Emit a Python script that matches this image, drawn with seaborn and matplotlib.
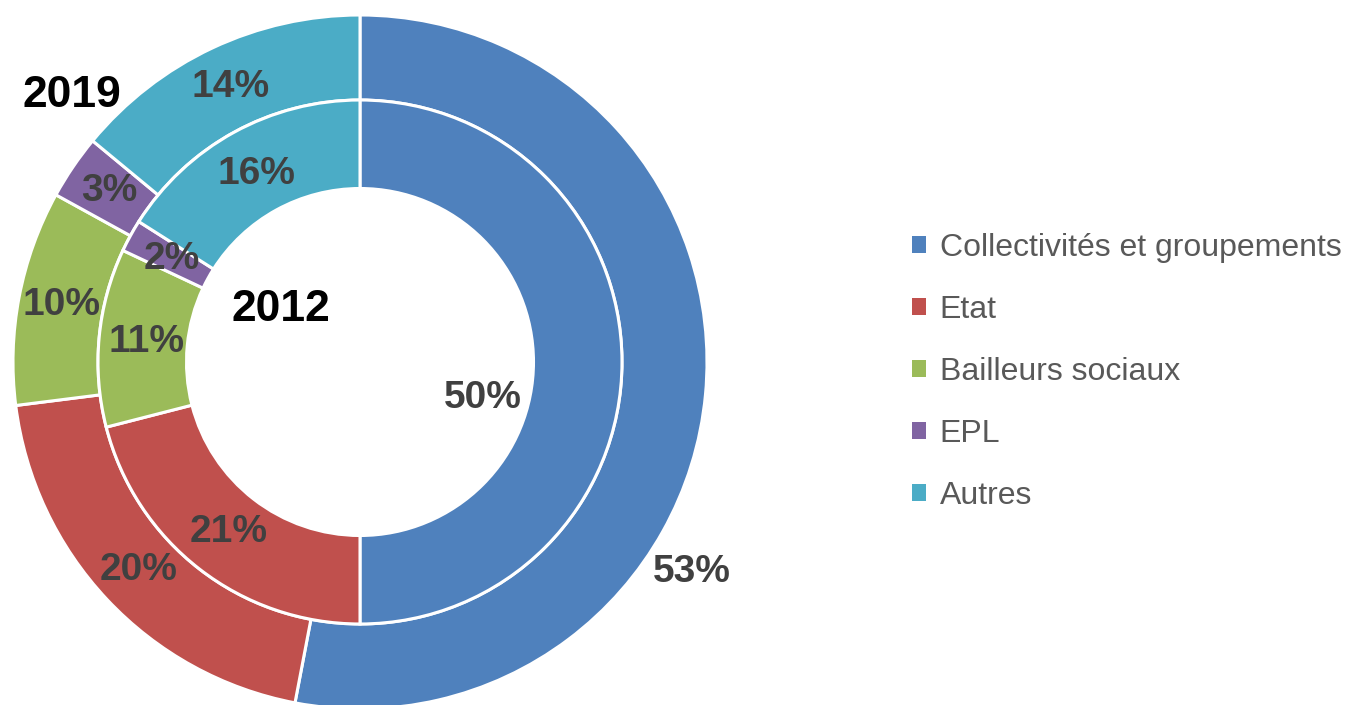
import matplotlib
matplotlib.use("Agg")
import matplotlib.pyplot as plt
import seaborn as sns
from matplotlib import font_manager

# data
categories = ["Collectivités et groupements", "Etat", "Bailleurs sociaux", "EPL", "Autres"]
values_2019 = [53, 20, 10, 3, 14]
values_2012 = [50, 21, 11, 2, 16]
colors = ["#4F81BD", "#C0504D", "#9BBB59", "#8064A2", "#4BACC6"]

sns.set_theme(style="white")
names = {f.name for f in font_manager.fontManager.ttflist}
font = "Liberation Sans Narrow" if "Liberation Sans Narrow" in names else "Liberation Sans"
plt.rcParams["font.family"] = [font, "DejaVu Sans"]

W, H = 1371, 705
R = 347.0  # outer radius in px
cx, cy = 360, 362  # center in px (from top-left)

fig = plt.figure(figsize=(W / 100, H / 100), dpi=100)
ax = fig.add_axes([0, 0, 720 / W, 1])

palette = sns.color_palette(colors)
wedge_kw = dict(edgecolor="white", linewidth=2.2)
pct = lambda p: f"{round(p)}%"

outer, _, outer_txt = ax.pie(values_2019, radius=1.0, colors=palette, startangle=90,
                             counterclock=False, autopct=pct, pctdistance=0.875,
                             wedgeprops=dict(width=0.245, **wedge_kw))
inner, _, inner_txt = ax.pie(values_2012, radius=0.755, colors=palette, startangle=90,
                             counterclock=False, autopct=pct, pctdistance=0.82,
                             wedgeprops=dict(width=0.255, **wedge_kw))

for t in outer_txt + inner_txt:
    t.set_color("#404040")
    t.set_fontsize(28)
    t.set_fontweight("bold")

# labels Excel moved away from slice middle
outer_txt[0].set_position((0.957, -0.605))
inner_txt[0].set_position((0.354, -0.104))

ax.text(-0.83, 0.769, "2019", ha="center", va="center", fontsize=32,
        fontweight="bold", color="black")
ax.text(-0.228, 0.15, "2012", ha="center", va="center", fontsize=32,
        fontweight="bold", color="black")

ax.set_xlim(-cx / R, (720 - cx) / R)
ax.set_ylim(-(H - cy) / R, cy / R)
ax.set_aspect("auto")
ax.axis("off")

leg = fig.legend(outer, categories, loc="center left",
                 bbox_to_anchor=(896 / W, 1 - 372 / H), frameon=False,
                 fontsize=23, handlelength=0.45, handleheight=0.45,
                 handletextpad=0.42, labelspacing=1.0, borderpad=0)
for t in leg.get_texts():
    t.set_color("#595959")
for h in leg.legend_handles:
    h.set_linewidth(0)

fig.savefig("out.png", dpi=100)
